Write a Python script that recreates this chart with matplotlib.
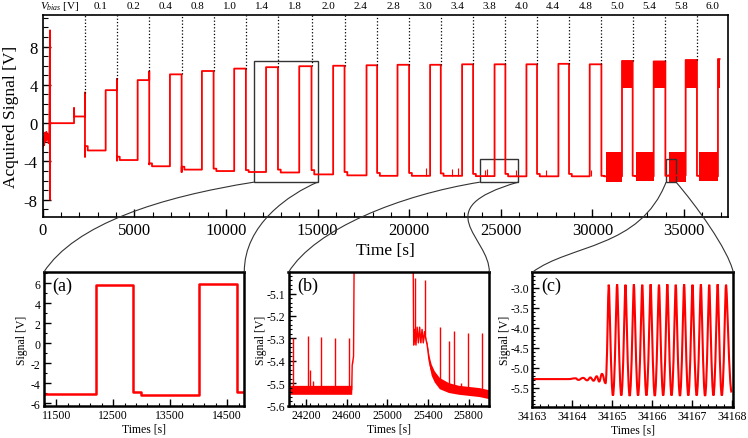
import numpy as np
import matplotlib
matplotlib.use('Agg')
import matplotlib.pyplot as plt
from matplotlib.path import Path
from matplotlib.patches import PathPatch, Rectangle
from matplotlib.ticker import MultipleLocator, FixedLocator, FormatStrFormatter
import matplotlib.transforms as mtransforms

plt.rcParams['font.family'] = ['Liberation Serif', 'DejaVu Serif']
plt.rcParams['mathtext.fontset'] = 'custom'
plt.rcParams['mathtext.rm'] = 'Liberation Serif'
plt.rcParams['mathtext.it'] = 'Liberation Serif:italic'
plt.rcParams['axes.unicode_minus'] = False

# ====================================================================
## data
## bias steps: falling edge (start of each step) and rising edge [s]
v_bias = ['0.1', '0.2', '0.4', '0.8', '1.0', '1.4', '1.8', '2.0', '2.4', '2.8',
          '3.0', '3.4', '3.8', '4.0', '4.4', '4.8', '5.0', '5.4', '5.8', '6.0']
t_fall = [2307, 4053, 5815, 7582, 9327, 11089, 12840, 14670, 16473, 18251,
          19996, 21726, 23488, 25250, 26978, 28724, 30491, 32198, 33982, 35706]
t_rise = [3436, 5182, 6944, 8689, 10451, 12190, 14000, 15851, 17673, 19364,
          21142, 22888, 24660, 26400, 28145, 29853, 31615, 33344, 35089, 36851]
t_end = 36940
low_start = [-2.4, -3.5, -4.2, -4.55, -4.75, -4.9, -4.85, -4.9, -5.1, -5.2,
             -5.2, -5.25, -5.3, -5.3, -5.3, -5.3, -5.5, -5.5, -5.5, -5.5]
low_lv = [-2.85, -3.85, -4.5, -4.85, -5.0, -5.1, -5.15, -5.35, -5.45, -5.5,
          -5.5, -5.5, -5.53, -5.55, -5.55, -5.55, -5.55, -5.55, -5.45, -5.55]
high_lv = [3.45, 4.5, 5.1, 5.45, 5.7, 5.85, 5.95, 6.0, 6.05, 6.1,
           6.1, 6.15, 6.15, 6.15, 6.2, 6.15, 6.5, 6.45, 6.6, 6.7]
fall_peak = [3.2, 4.6, 5.4, None, None, None, None, None, None, None,
             None, None, None, None, None, None, None, None, None, None]
fall_dip = [-3.5, -3.9, -4.3, -5.1, None, None, None, None, None, None,
            None, None, None, None, None, None, None, None, None, None]
settle_s = 150

## before the bias steps
pre_t = [0, 40, 80, 120, 160, 200, 240, 280, 320, 360, 400, 402, 404, 420, 1710, 1710, 1720, 2307]
pre_v = [-2.5, -1.4, -2.3, -1.0, -1.9, -0.9, -1.7, -1.2, -2.1, -1.3, 9.7, -8.0, 0.1, 0.0, 0.0, 1.6, 0.7, 0.7]

## small spikes on the low plateaus
spk_t = [20900, 22350, 22650, 24130, 24250, 25850, 27450, 29950]
spk_v = [-4.7, -4.8, -4.7, -4.9, -4.8, -4.9, -4.9, -4.9]

## oscillating blocks (5.0 V and above)
band_t0 = [30730, 31640, 32364, 33344, 34165, 35089, 35796, 36851]
band_t1 = [31615, 32198, 33344, 33982, 35089, 35706, 36851, 36940]
band_lo = [-6.1, 3.65, -6.05, 3.65, -6.1, 3.65, -6.0, 3.65]
band_hi = [-2.96, 6.5, -3.0, 6.45, -2.96, 6.6, -3.0, 6.7]

## zoom boxes in the main panel (t0, t1, v0, v1)
zoom_boxes = [(11530, 15000, -6.16, 6.53),
              (23857, 25947, -6.16, -3.76),
              (34020, 34566, -6.16, -3.76)]

## inset (b)
b_t1 = [24000, 24640, 24650, 24655, 24668, 24674]
b_v1 = [-5.53, -5.53, -5.53, -5.42, -5.38, -4.95]
b_w1 = [0.02, 0.02, 0.02, 0.004, 0.004, 0.004]
b_t2 = [25253, 25258, 25268, 25280, 25292, 25304, 25316, 25328, 25340, 25352, 25364,
        25376, 25390, 25410, 25430, 25460, 25510, 25600, 25700, 25800, 25900, 26000]
b_v2 = [-4.95, -5.33, -5.26, -5.33, -5.25, -5.32, -5.25, -5.32, -5.26, -5.32, -5.27,
        -5.30, -5.33, -5.40, -5.44, -5.47, -5.50, -5.52, -5.53, -5.535, -5.54, -5.55]
b_w2 = [0.004, 0.004, 0.004, 0.004, 0.004, 0.004, 0.004, 0.004, 0.004, 0.004, 0.004,
        0.004, 0.01, 0.02, 0.025, 0.025, 0.025, 0.022, 0.02, 0.02, 0.02, 0.02]
b_spk_t = [24077, 24217, 24243, 24270, 24350, 24487, 24627, 25272, 25374,
           25520, 25603, 25653, 25727, 25793, 25933]
b_spk_top = [-5.30, -5.29, -5.44, -5.49, -5.295, -5.30, -5.30, -5.03, -5.04,
             -5.25, -5.31, -5.265, -5.50, -5.275, -5.275]
b_spk_base = [-5.53, -5.53, -5.53, -5.53, -5.53, -5.53, -5.53, -5.3, -5.3,
              -5.5, -5.52, -5.52, -5.53, -5.53, -5.54]

## inset (c): onset ripples, then peaks and troughs of the oscillation
c_pre_t = [34163.0, 34163.9, 34164.08, 34164.15, 34164.27, 34164.37, 34164.45,
           34164.53, 34164.61, 34164.67, 34164.74, 34164.83]
c_pre_v = [-5.29, -5.29, -5.27, -5.31, -5.26, -5.32, -5.25, -5.33, -5.22, -5.35, -5.16, -5.39]
c_peak_t = [34164.909, 34165.118, 34165.327, 34165.537, 34165.746, 34165.955, 34166.164,
            34166.373, 34166.583, 34166.792, 34167.001, 34167.210, 34167.419, 34167.629, 34167.838]
c_peak_v = [-2.93, -2.92, -2.93, -2.92, -2.93, -2.92, -2.93, -2.92, -2.93, -2.92,
            -2.93, -2.92, -2.93, -2.92, -2.93]
c_trough_t = [34165.014, 34165.223, 34165.432, 34165.641, 34165.850, 34166.059, 34166.269,
              34166.478, 34166.687, 34166.896, 34167.105, 34167.315, 34167.524, 34167.733, 34167.98]
c_trough_v = [-5.70, -5.70, -5.71, -5.70, -5.70, -5.71, -5.70, -5.70, -5.71, -5.70,
              -5.70, -5.71, -5.70, -5.70, -5.62]

# ====================================================================
W, H = 748.0, 439.0
fig = plt.figure(figsize=(W / 100, H / 100), dpi=100)

def px_rect(l, t, r, b):
    return [l / W, 1 - b / H, (r - l) / W, (b - t) / H]

def px(x, y):
    return (x / W, 1 - y / H)

red = '#ff0000'

##build the step trace
tr_t = list(pre_t)
tr_v = list(pre_v)
dot_bottom = []
for k in range(len(v_bias)):
    t_next = t_fall[k + 1] if k + 1 < len(t_fall) else t_end
    top = fall_peak[k] if fall_peak[k] is not None else tr_v[-1]
    bot = fall_dip[k] if fall_dip[k] is not None else low_start[k]
    dot_bottom.append(max(top, tr_v[-1]))
    tr_t += [t_fall[k], t_fall[k], t_fall[k], t_fall[k] + settle_s, t_fall[k] + settle_s,
             t_rise[k], t_rise[k], t_next]
    tr_v += [top, bot, low_start[k], low_start[k], low_lv[k], low_lv[k], high_lv[k], high_lv[k]]

# ====================================================================
##main panel
ax = fig.add_axes(px_rect(42.7, 16, 728, 218))
x_max, y_min, y_max = 37400, -9.8, 11.3
ax.plot(tr_t, tr_v, color=red, lw=1.3)
ax.vlines(spk_t, -5.5, spk_v, color=red, lw=0.8)
for t0, t1, lo, hi in zip(band_t0, band_t1, band_lo, band_hi):
    ax.fill_between([t0, t1], [lo, lo], [hi, hi], color=red, lw=0)
ax.vlines(t_fall, dot_bottom, y_max, colors='k', linestyles=':', lw=0.9)
ax.set_xlim(0, x_max)
ax.set_ylim(y_min, y_max)

trans = mtransforms.blended_transform_factory(ax.transData, ax.transAxes)
bounds = t_fall + [x_max]
for k, lab in enumerate(v_bias):
    ax.text((bounds[k] + bounds[k + 1]) / 2, 1.046, lab, transform=trans,
            ha='center', va='center', fontsize=8)
ax.text(950, 1.046, r'$V_{bias}$ [V]', transform=trans, ha='center', va='center', fontsize=8)

ax.xaxis.set_major_locator(FixedLocator([0, 5000, 10000, 15000, 20000, 25000, 30000, 35000]))
ax.xaxis.set_minor_locator(MultipleLocator(1000))
ax.yaxis.set_major_locator(FixedLocator([-8, -4, 0, 4, 8]))
ax.yaxis.set_minor_locator(MultipleLocator(1))
ax.tick_params(which='both', direction='in', top=False, right=False)
ax.tick_params(which='major', length=6, width=1, labelsize=12, pad=3.5)
ax.tick_params(which='minor', length=3.5, width=0.8)
for s in ax.spines.values():
    s.set_linewidth(1.2)
ax.set_xlabel('Time [s]', fontsize=12.5)
ax.xaxis.set_label_coords(0.5, -0.125)
ax.set_ylabel('Acquired Signal [V]', fontsize=12.5)
ax.yaxis.set_label_coords(-0.034, 0.5)

for t0, t1, v0, v1 in zoom_boxes:
    ax.add_patch(Rectangle((t0, v0), t1 - t0, v1 - v0, fill=False, ec='#333333', lw=1.0))

# ====================================================================
##insets
def style_inset(a, xl, yl):
    a.tick_params(which='both', direction='in', top=False, right=False)
    a.tick_params(which='major', length=5, width=1, labelsize=8.5, pad=2.5)
    a.tick_params(which='minor', length=2.5, width=0.8)
    for s in a.spines.values():
        s.set_linewidth(1.8)
    a.set_xlabel('Times [s]', fontsize=8.5, labelpad=0)
    a.xaxis.set_label_coords(0.5, -0.125)
    a.set_ylabel('Signal [V]', fontsize=8.5)
    a.yaxis.set_label_coords(xl, 0.5)
    a.text(0.045, 0.9, yl, transform=a.transAxes, fontsize=13, ha='left', va='center')

ax_a = fig.add_axes(px_rect(43.7, 273.3, 244.3, 406.7))
ax_a.plot(tr_t, tr_v, color=red, lw=1.8)
ax_a.set_xlim(11280, 14800)
ax_a.set_ylim(-6.27, 7.1)
ax_a.xaxis.set_major_locator(FixedLocator([11500, 12500, 13500, 14500]))
ax_a.xaxis.set_minor_locator(FixedLocator(np.arange(11300, 14800, 200)))
ax_a.yaxis.set_major_locator(MultipleLocator(2))
ax_a.yaxis.set_minor_locator(MultipleLocator(1))
style_inset(ax_a, -0.078, '(a)')

ax_b = fig.add_axes(px_rect(288.5, 273.3, 489.3, 406.5))
ax_b.fill_between(b_t1, np.array(b_v1) - b_w1, np.array(b_v1) + b_w1, color=red, lw=0)
ax_b.plot(b_t1, b_v1, color=red, lw=1.0)
ax_b.fill_between(b_t2, np.array(b_v2) - b_w2, np.array(b_v2) + b_w2, color=red, lw=0)
ax_b.plot(b_t2, b_v2, color=red, lw=1.0)
ax_b.vlines(b_spk_t, b_spk_base, b_spk_top, color=red, lw=1.0)
ax_b.set_xlim(24030, 26000)
ax_b.set_ylim(-5.6, -5.005)
ax_b.xaxis.set_major_locator(FixedLocator([24200, 24600, 25000, 25400, 25800]))
ax_b.xaxis.set_minor_locator(MultipleLocator(80))
ax_b.yaxis.set_major_locator(FixedLocator([-5.6, -5.5, -5.4, -5.3, -5.2, -5.1]))
ax_b.yaxis.set_major_formatter(FormatStrFormatter('%.1f'))
ax_b.yaxis.set_minor_locator(MultipleLocator(0.02))
style_inset(ax_b, -0.105, '(b)')

ax_c = fig.add_axes(px_rect(532.3, 273.3, 733.3, 407.7))
ext_t = list(c_pre_t)
ext_v = list(c_pre_v)
for k in range(len(c_peak_t)):
    ext_t += [c_peak_t[k], c_trough_t[k]]
    ext_v += [c_peak_v[k], c_trough_v[k]]
verts = [(ext_t[0], ext_v[0])]
codes = [Path.MOVETO]
for i in range(1, len(ext_t)):
    t0, v0, t1, v1 = ext_t[i - 1], ext_v[i - 1], ext_t[i], ext_v[i]
    dt = t1 - t0
    a0 = 0.2 if v0 > -4 else 0.45
    a1 = 0.2 if v1 > -4 else 0.45
    verts += [(t0 + a0 * dt, v0), (t1 - a1 * dt, v1), (t1, v1)]
    codes += [Path.CURVE4] * 3
ax_c.add_patch(PathPatch(Path(verts, codes), fc='none', ec=red, lw=1.5))
ax_c.set_xlim(34163, 34168.02)
ax_c.set_ylim(-5.98, -2.62)
ax_c.xaxis.set_major_locator(FixedLocator([34163, 34164, 34165, 34166, 34167, 34168]))
ax_c.xaxis.set_major_formatter(FormatStrFormatter('%d'))
ax_c.xaxis.set_minor_locator(MultipleLocator(0.2))
ax_c.yaxis.set_major_locator(FixedLocator([-5.5, -5.0, -4.5, -4.0, -3.5, -3.0]))
ax_c.yaxis.set_major_formatter(FormatStrFormatter('%.1f'))
ax_c.yaxis.set_minor_locator(MultipleLocator(0.1))
style_inset(ax_c, -0.105, '(c)')

# ====================================================================
##curved connectors from the zoom boxes to the insets
inv = fig.transFigure.inverted()
links = [(0, 0, ax_a, (0, 1), (160, 198), (75, 225)),
         (0, 1, ax_a, (1, 1), (290, 195), (244, 225)),
         (1, 0, ax_b, (0, 1), (400, 196), (315, 230)),
         (1, 1, ax_b, (1, 1), (425, 210), (490, 238)),
         (2, 0, ax_c, (0, 1), (640, 250), (570, 245)),
         (2, 1, ax_c, (1, 1), (695, 205), (728, 250))]
for bi, side, a_in, corner, c1, c2 in links:
    t0, t1, v0, v1 = zoom_boxes[bi]
    p0 = inv.transform(ax.transData.transform((t1 if side else t0, v0)))
    p3 = inv.transform(a_in.transAxes.transform(corner))
    path = Path([tuple(p0), px(*c1), px(*c2), tuple(p3)],
                [Path.MOVETO, Path.CURVE4, Path.CURVE4, Path.CURVE4])
    fig.add_artist(PathPatch(path, fc='none', ec='#333333', lw=0.8,
                             transform=fig.transFigure))

fig.savefig('out.png', dpi=100)
